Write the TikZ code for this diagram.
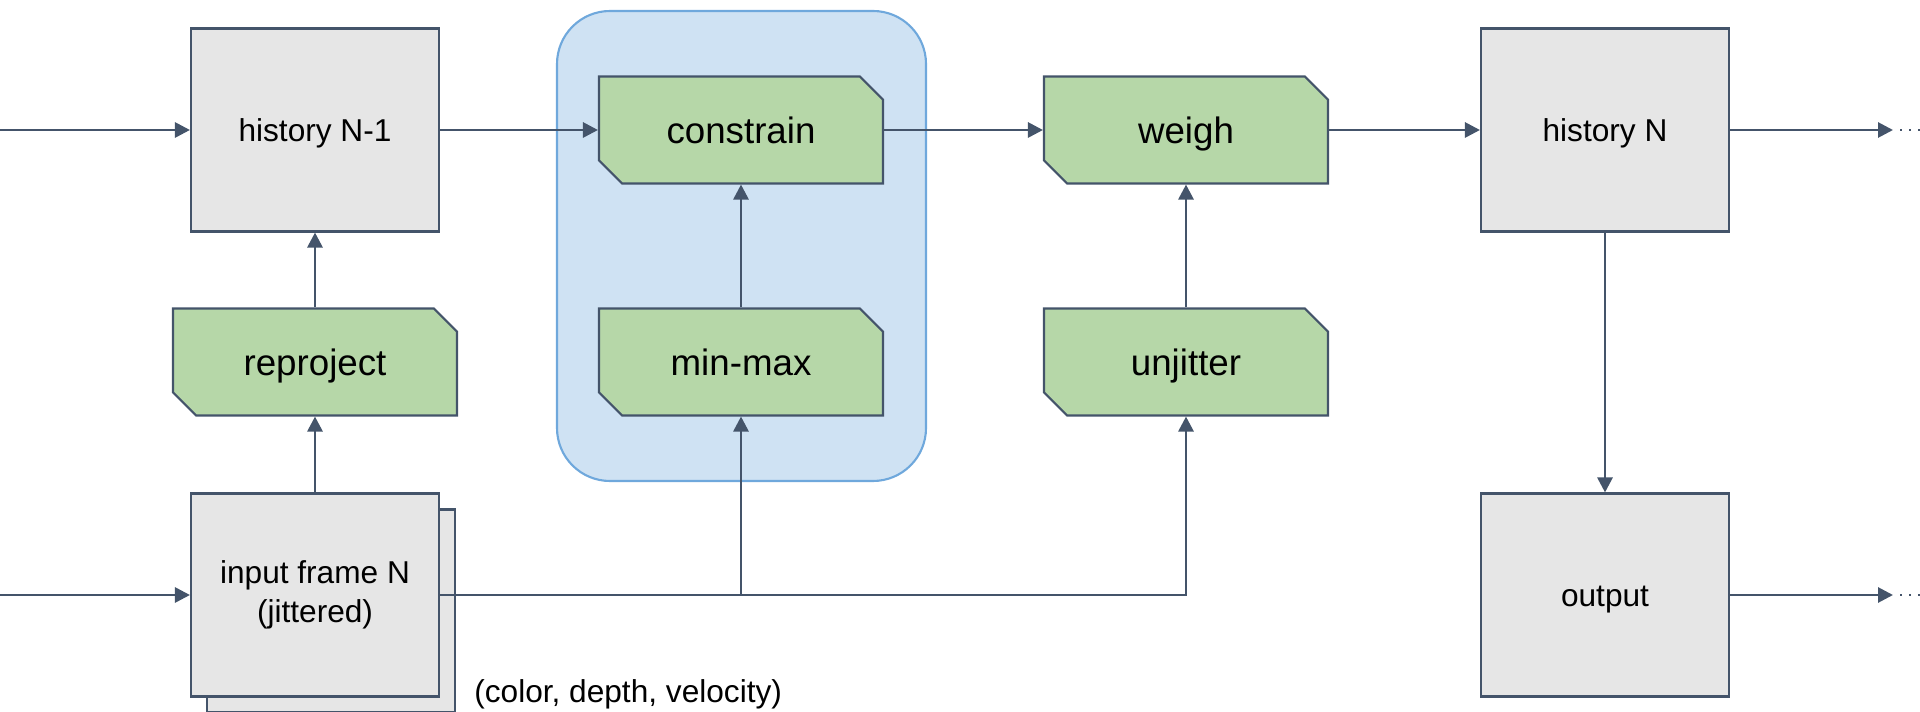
\documentclass[tikz,border=0pt]{standalone}
\usepackage{fontspec}
\setmainfont{Liberation Sans}
\usetikzlibrary{arrows.meta,shapes.misc}

\definecolor{edge}{HTML}{44546A}
\definecolor{boxgray}{HTML}{E6E6E6}
\definecolor{stepgreen}{HTML}{B6D7A8}
\definecolor{groupfill}{HTML}{CFE2F3}
\definecolor{groupline}{HTML}{6FA8DC}

\tikzset{
  oneline/.style={text height=13.1pt, text depth=0pt},
  buffer/.style={draw=edge, fill=boxgray, line width=1.2pt,
    minimum width=4.96cm, minimum height=4.06cm, align=center,
    font=\fontsize{18}{22.3}\selectfont},
  pass/.style={chamfered rectangle,
    chamfered rectangle corners={north east,south west},
    chamfered rectangle xsep=0.34cm, draw=edge, fill=stepgreen,
    line width=1.2pt, minimum width=5.68cm, minimum height=2.14cm,
    text height=15.3pt, text depth=0pt,
    font=\fontsize{20.9}{25}\selectfont},
  flow/.style={draw=edge, line width=1.6pt,
    -{Triangle[length=0.3cm,width=0.3cm]}},
  more/.style={draw=edge, line width=1.2pt, dash pattern=on 1.2pt off 4pt,
    shorten <=0.14cm},
  group/.style={draw=groupline, fill=groupfill, line width=1.2pt,
    rounded corners=1.06cm}
}

\begin{document}
\begin{tikzpicture}[x=0.02cm, y=-0.02cm]
  \useasboundingbox (0,0) rectangle (1920,712);
  \clip (0,0) rectangle (1920,712);

  % clamping group
  \draw[group] (557,11) rectangle (926,481);

  % frame buffers
  \node[buffer, oneline] (histA) at (315,130) {history N-1};
  \node[buffer] (inputback) at (331,611) {};
  \node[buffer] (input) at (315,595) {input frame N\\(jittered)};
  \node[buffer, oneline] (histB) at (1605,130) {history N};
  \node[buffer, oneline] (output) at (1605,595) {output};

  % passes
  \node[pass] (reproj) at (315,362) {reproject};
  \node[pass] (constrain) at (741,130) {constrain};
  \node[pass] (minmax) at (741,362) {min-max};
  \node[pass] (weigh) at (1186,130) {weigh};
  \node[pass] (unjitter) at (1186,362) {unjitter};

  \node[anchor=west, inner sep=0pt, font=\fontsize{18}{22.3}\selectfont]
    (gbuf) at (474,694) {(color, depth, velocity)};

  % loose ends
  \coordinate (histIn) at (0,130);
  \coordinate (frameIn) at (0,595);
  \coordinate (histOut) at (1893,130);
  \coordinate (frameOut) at (1893,595);

  % connections
  \draw[flow] (histIn) -- (histA.west);
  \draw[flow] (frameIn) -- (input.west);
  \draw[flow] (input.north) -- (reproj.south);
  \draw[flow] (reproj.north) -- (histA.south);
  \draw[flow] (histA.east) -- (constrain.west);
  \draw[flow] (minmax.north) -- (constrain.south);
  \draw[flow] (input.east) -| (unjitter.south);
  \draw[flow] (input.east -| minmax.south) -- (minmax.south);
  \draw[flow] (constrain.east) -- (weigh.west);
  \draw[flow] (unjitter.north) -- (weigh.south);
  \draw[flow] (weigh.east) -- (histB.west);
  \draw[flow] (histB.south) -- (output.north);
  \draw[flow] (histB.east) -- (histOut);
  \draw[flow] (output.east) -- (frameOut);
  \draw[more] (histOut) -- ++(27,0);
  \draw[more] (frameOut) -- ++(27,0);
\end{tikzpicture}
\end{document}
